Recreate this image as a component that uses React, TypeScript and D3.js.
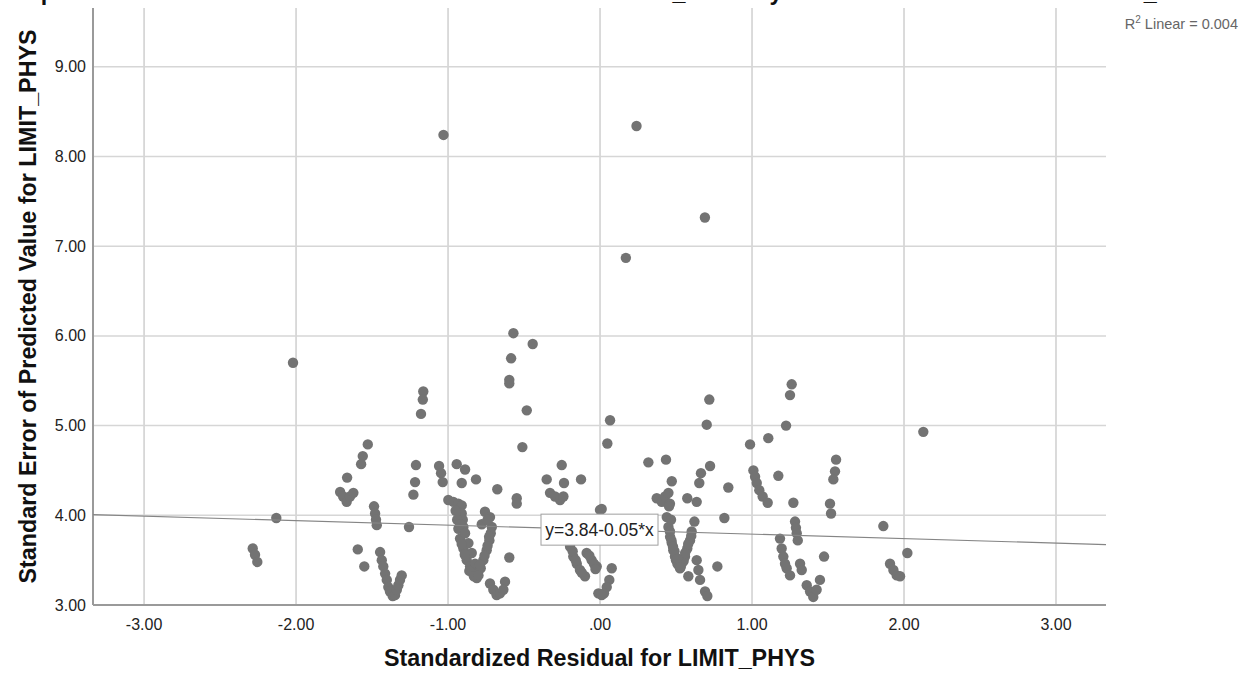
import React from "react";
import * as d3 from "d3";

const W = 1251;
const H = 681;

const residuals: number[] = [
  -1.03, 0.24, 0.69, 0.17,
  -2.02, -2.13, -2.285, -2.27, -2.255,
  -0.57, -0.443, -0.585, -0.597, -0.597, -0.482, -0.511,
  -1.163, -1.166, -1.178,
  -1.528, -1.561, -1.572, -1.664,
  -1.71, -1.69, -1.667, -1.645, -1.623,
  -1.487, -1.48, -1.474, -1.469,
  -1.211, -1.217, -1.228, -1.257,
  -1.594, -1.551,
  -1.447, -1.436, -1.426, -1.414, -1.403, -1.393, -1.382, -1.364,
  -1.349, -1.337, -1.327, -1.316, -1.305,
  -1.059, -1.046, -1.035,
  -0.943, -0.888, -0.816, -0.91,
  -0.676, -0.548, -0.548,
  -0.351, -0.252, -0.237, -0.125,
  -0.329, -0.296, -0.263, -0.241,
  -0.998, -0.965, -0.932, -0.91,
  -0.91, -0.903, -0.899, -0.932, -0.921, -0.899, -0.877, -0.855, -0.834, -0.811,
  -0.888, -0.866, -0.844, -0.822, -0.801,
  -0.757, -0.724, -0.712, -0.719, -0.728, -0.746, -0.768, -0.785,
  -0.778,
  -0.597, -0.625,
  -0.724, -0.702, -0.68, -0.658, -0.636,
  -0.219, -0.197, -0.176, -0.153, -0.132, -0.099, -0.088, -0.055, -0.022, -0.011, 0.0,
  0.066, 0.048, 0.011, 0.077,
  0.061, 0.044, 0.026, 0.011,
  0.318, 0.434, 0.472,
  0.373, 0.406, 0.428, 0.45, 0.46,
  0.719, 0.702, 0.724, 0.664, 0.653, 0.844, 0.574, 0.636, 0.818, 0.772,
  0.439, 0.45, 0.461, 0.472, 0.482, 0.493, 0.509, 0.526, 0.537, 0.559, 0.574, 0.592, 0.603, 0.621, 0.467, 0.454,
  0.581,
  0.636, 0.647, 0.658, 0.691, 0.706,
  0.987, 1.107, 1.224, 1.25, 1.261,
  1.009, 1.02, 1.031, 1.048, 1.07, 1.103,
  1.173, 1.272,
  1.283, 1.289, 1.294, 1.301,
  1.184, 1.195, 1.206, 1.217, 1.228, 1.25,
  1.316, 1.327,
  1.36, 1.382, 1.403, 1.425, 1.447, 1.474,
  1.513, 1.52, 1.553, 1.546, 1.535,
  1.864, 2.022, 1.908, 1.93, 1.952, 1.974, 2.127,
  -0.95, -0.94, -0.92, -0.91, -0.89, -0.86, -0.83, -0.8, -0.79, -0.76, -0.74, -0.73, -0.74,
  0.46, 0.47, 0.49, 0.5, 0.52, 0.55, 0.56, 0.58, 0.6, 0.48, 0.51, 0.53,
  -0.21, -0.18, -0.16, -0.12, -0.07, -0.04, -0.03,
];

const stdErrors: number[] = [
  8.24, 8.34, 7.32, 6.87,
  5.7, 3.97, 3.63, 3.56, 3.48,
  6.03, 5.91, 5.75, 5.51, 5.47, 5.17, 4.76,
  5.38, 5.29, 5.13,
  4.79, 4.66, 4.57, 4.42,
  4.26, 4.21, 4.15, 4.21, 4.25,
  4.1, 4.02, 3.95, 3.89,
  4.56, 4.37, 4.23, 3.87,
  3.62, 3.43,
  3.59, 3.5, 3.43, 3.35, 3.28, 3.2, 3.15, 3.1,
  3.11, 3.17, 3.22, 3.28, 3.33,
  4.55, 4.47, 4.37,
  4.57, 4.51, 4.4, 4.36,
  4.29, 4.19, 4.13,
  4.4, 4.56, 4.36, 4.4,
  4.25, 4.21, 4.17, 4.21,
  4.17, 4.15, 4.13, 4.11,
  4.02, 3.95, 3.87, 3.85, 3.74, 3.63, 3.5, 3.43, 3.35, 3.3,
  3.8, 3.69, 3.58, 3.46, 3.39,
  4.04, 3.98, 3.87, 3.8, 3.72, 3.61, 3.5, 3.41,
  3.9,
  3.53, 3.26,
  3.24, 3.17, 3.11, 3.13, 3.17,
  3.8, 3.65, 3.54, 3.46, 3.39, 3.32, 3.58, 3.5, 3.43, 3.13, 4.06,
  5.06, 4.8, 4.07, 3.41,
  3.28, 3.2, 3.13, 3.11,
  4.59, 4.62, 4.38,
  4.19, 4.15, 4.21, 4.25, 4.13,
  5.29, 5.01, 4.55, 4.47, 4.36, 4.31, 4.19, 4.15, 3.97, 3.43,
  3.98, 3.87, 3.76, 3.69, 3.61, 3.54, 3.46, 3.41, 3.46, 3.54, 3.63, 3.72, 3.82, 3.93, 3.95, 4.1,
  3.32,
  3.5, 3.39, 3.28, 3.15, 3.1,
  4.79, 4.86, 5.0, 5.34, 5.46,
  4.5, 4.43, 4.36, 4.28, 4.21, 4.14,
  4.44, 4.14,
  3.93, 3.86, 3.8, 3.72,
  3.74, 3.63, 3.54, 3.46, 3.41, 3.33,
  3.46, 3.39,
  3.22, 3.15, 3.09, 3.17, 3.28, 3.54,
  4.13, 4.02, 4.62, 4.49, 4.4,
  3.88, 3.58, 3.46, 3.39, 3.33, 3.32, 4.93,
  4.05, 3.95, 3.9, 3.68, 3.56, 3.38, 3.32, 3.33, 3.45, 3.55, 3.66, 3.76, 3.95,
  3.82, 3.72, 3.6, 3.5, 3.44, 3.49, 3.58, 3.68, 3.77, 3.65, 3.52, 3.42,
  3.72, 3.6, 3.5, 3.36, 3.55, 3.46, 3.4,
];

const xTicks: number[] = [-3, -2, -1, 0, 1, 2, 3];
const yTicks: number[] = [3, 4, 5, 6, 7, 8, 9];
const fitIntercept = 3.84;
const fitSlope = -0.05;
const fitLabel = "y=3.84-0.05*x";
const r2Label = "0.004";
const chartTitle =
  "Simple Scatter of Standard Error of Predicted Value for LIMIT_PHYS by Standardized Residual for LIMIT_PHYS";
const xTitle = "Standardized Residual for LIMIT_PHYS";
const yTitle = "Standard Error of Predicted Value for LIMIT_PHYS";

const fmt = (v: number) => {
  const s = v.toFixed(2);
  if (s === "0.00") return ".00";
  return s;
};

export default function App() {
  const left = 93;
  const right = 1106;
  const top = 8;
  const bottom = 605;
  const x = d3.scaleLinear().domain([-3.336, 3.329]).range([left, right]);
  const y = d3.scaleLinear().domain([3, 9.655]).range([bottom, top]);
  const xd = x.domain();
  const line = d3
    .line<number>()
    .x((d) => x(d))
    .y((d) => y(fitIntercept + fitSlope * d));
  const font = "'Liberation Sans', Arial, sans-serif";
  const labelY = y(fitIntercept + fitSlope * 0);
  return (
    <svg
      width={W}
      height={H}
      style={{ position: "absolute", left: 0, top: 0, background: "#fff" }}
      fontFamily={font}
    >
      <rect x={0} y={0} width={W} height={H} fill="#fff" />
      <text x={-2} y={-0.5} fontSize={23.3} fontWeight="bold" fill="#111">
        {chartTitle}
      </text>
      {xTicks.map((t) => (
        <line key={"gx" + t} x1={x(t)} x2={x(t)} y1={top} y2={bottom} stroke="#cfcfcf" strokeWidth={1.5} />
      ))}
      {yTicks.map((t) => (
        <line key={"gy" + t} x1={left} x2={right} y1={y(t)} y2={y(t)} stroke="#d6d6d6" strokeWidth={1.5} />
      ))}
      <line x1={left} x2={left} y1={top} y2={bottom} stroke="#9a9a9a" strokeWidth={2} />
      <line x1={left} x2={right} y1={bottom} y2={bottom} stroke="#9a9a9a" strokeWidth={2} />
      {residuals.map((r, i) => (
        <circle key={i} cx={x(r)} cy={y(stdErrors[i])} r={5.2} fill="#737373" />
      ))}
      <path d={line([xd[0], xd[1]]) || ""} stroke="#858585" strokeWidth={1.2} fill="none" />
      <rect x={541} y={labelY - 15.5} width={117} height={31} fill="#fff" stroke="#a0a0a0" strokeWidth={1} />
      <text x={599.5} y={labelY + 6.5} fontSize={17.5} textAnchor="middle" fill="#222">
        {fitLabel}
      </text>
      {xTicks.map((t) => (
        <text key={"tx" + t} x={x(t)} y={629.5} fontSize={16} textAnchor="middle" fill="#222">
          {fmt(t)}
        </text>
      ))}
      {yTicks.map((t) => (
        <text key={"ty" + t} x={86} y={y(t) + 5.5} fontSize={16} textAnchor="end" fill="#222">
          {fmt(t)}
        </text>
      ))}
      <text x={(left + right) / 2} y={666} fontSize={23.3} fontWeight="bold" textAnchor="middle" fill="#111">
        {xTitle}
      </text>
      <text
        transform={`translate(36, ${(top + bottom) / 2}) rotate(-90)`}
        fontSize={23.3}
        fontWeight="bold"
        textAnchor="middle"
        fill="#111"
      >
        {yTitle}
      </text>
      <text x={1238} y={29} fontSize={14.5} textAnchor="end" fill="#666">
        R<tspan dy={-6} fontSize={10}>2</tspan>
        <tspan dy={6}> Linear = {r2Label}</tspan>
      </text>
    </svg>
  );
}
